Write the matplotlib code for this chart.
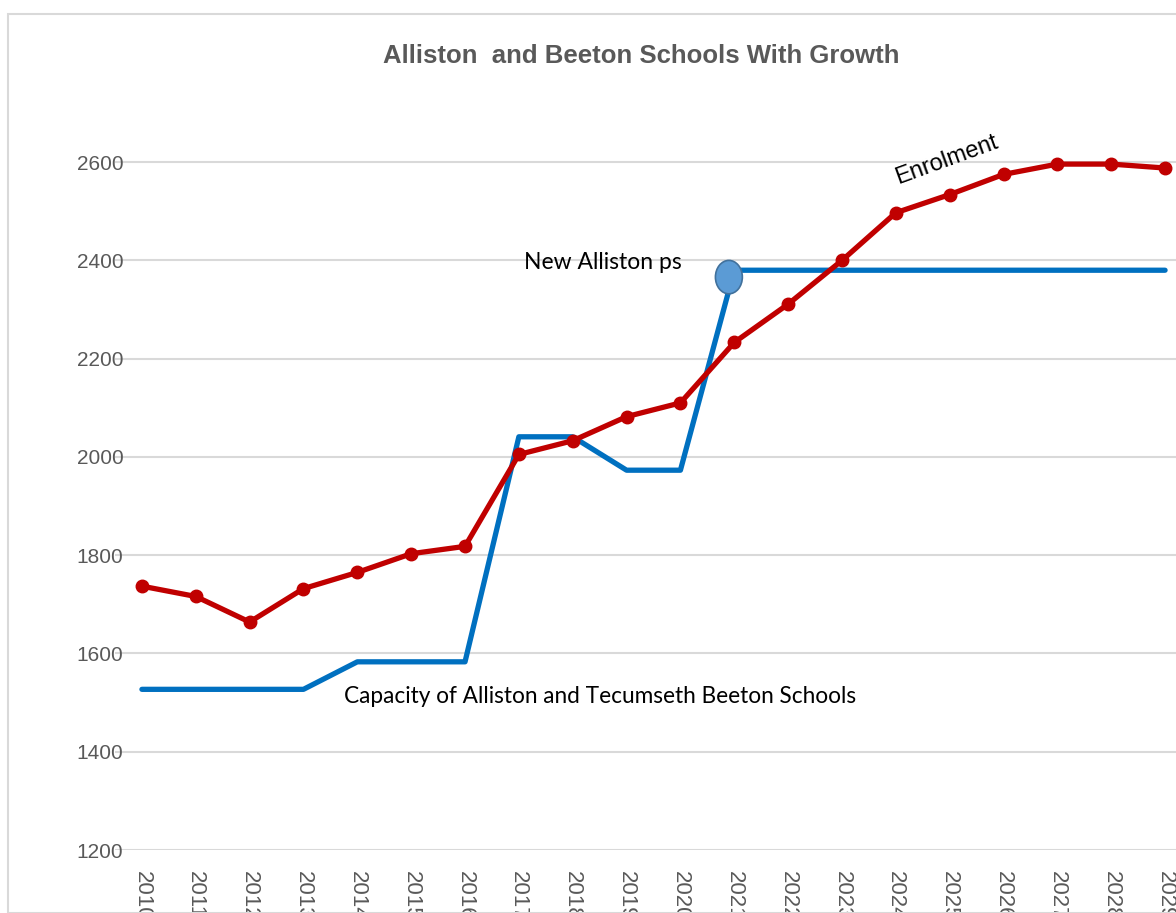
import matplotlib
matplotlib.use("Agg")
from matplotlib import pyplot as plt
from matplotlib.patches import Ellipse, Rectangle

plt.rcParams['font.family'] = ['Liberation Sans', 'DejaVu Sans']

years = list(range(2010, 2030))
enrolment = [1737, 1716, 1664, 1732, 1765, 1803, 1818, 2005, 2033, 2082,
             2110, 2233, 2311, 2400, 2497, 2534, 2575, 2596, 2596, 2588]
capacity = [1527, 1527, 1527, 1527, 1583, 1583, 1583, 2041, 2041, 1973,
            1973, 2380, 2380, 2380, 2380, 2380, 2380, 2380, 2380, 2380]
y_ticks = [1200, 1400, 1600, 1800, 2000, 2200, 2400, 2600]

W, H = 1176, 913
fig = plt.figure(figsize=(W / 100, H / 100), dpi=100)

# chart area border (Excel style)
fig.patches.append(Rectangle((8 / W, 0), 1.2, 1 - 14 / H, transform=fig.transFigure,
                             fill=False, edgecolor='#D9D9D9', linewidth=1.5))

ax = fig.add_axes([115 / W, (H - 850) / H, (1192 - 115) / W, 737 / H])
ax.set_xlim(2009.5, 2029.5)
ax.set_ylim(1200, 2700)
ax.set_yticks(y_ticks)
ax.set_xticks(years)
ax.set_xticklabels([str(y) for y in years], rotation=270, va='top', ha='center')
ax.tick_params(axis='both', length=0, labelcolor='#595959')
ax.tick_params(axis='y', labelsize=15, pad=-6)
ax.tick_params(axis='x', labelsize=16, pad=15)
for s in ax.spines.values():
    s.set_visible(False)
ax.grid(axis='y', color='#D9D9D9', linewidth=1.5)
ax.set_axisbelow(True)

ax.plot(years, capacity, color='#0070C0', linewidth=3.8, solid_capstyle='round', zorder=3)
ax.plot(years, enrolment, color='#C00000', linewidth=3.8, marker='o', markersize=9,
        clip_on=False, zorder=4)

ax.add_patch(Ellipse((2020.9, 2366), 0.5, 68, facecolor='#5B9BD5', edgecolor='#41719C',
                     linewidth=1.2, zorder=5))

fig.text(641 / W, 1 - 56 / H, 'Alliston  and Beeton Schools With Growth', ha='center',
         va='center', fontsize=18.5, fontweight='bold', color='#595959')

ax.text(2017.1, 2395, 'New Alliston ps', fontsize=16.5, ha='left', va='center',
        family=['Lato', 'DejaVu Sans'])
ax.text(2013.75, 1513, 'Capacity of Alliston and Tecumseth Beeton Schools', fontsize=16.3,
        ha='left', va='center', family=['Lato', 'DejaVu Sans'])
ax.text(2024.95, 2604, 'Enrolment', fontsize=17, rotation=20, ha='center', va='center')

fig.savefig('out.png', dpi=100)
